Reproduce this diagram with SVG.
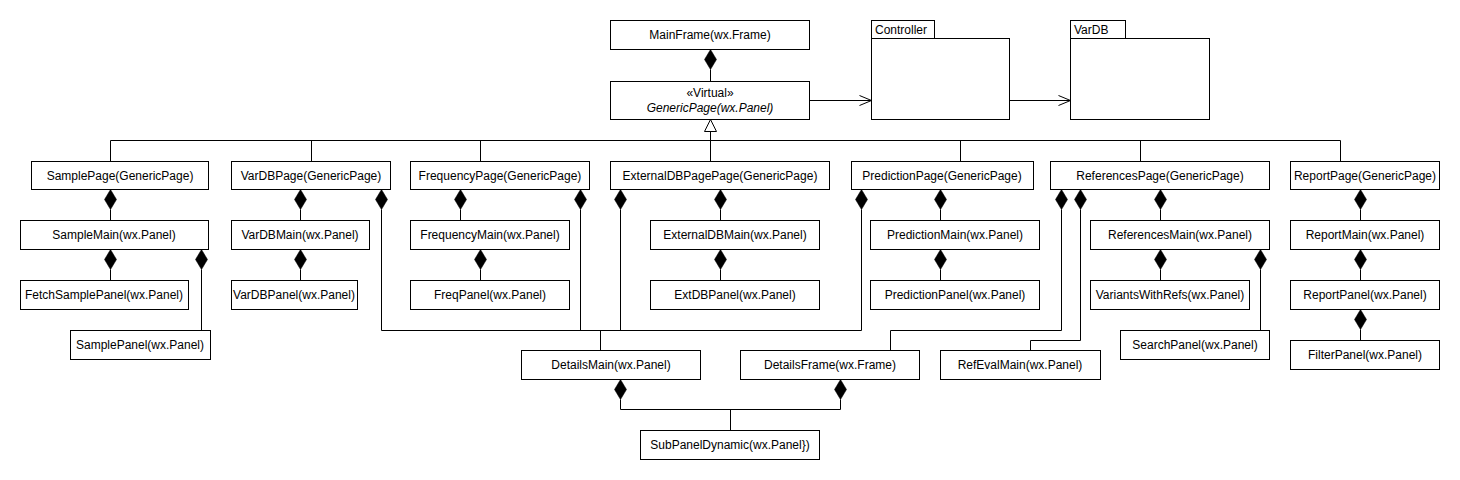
<svg xmlns="http://www.w3.org/2000/svg" xmlns:xlink="http://www.w3.org/1999/xlink" width="1460" height="480" viewBox="0 0 1460 480">
<style>
.box{fill:#fff;stroke:#000;stroke-width:1}
.t{font-family:"Liberation Sans",Arial,sans-serif;font-size:12px;fill:#000;text-anchor:middle}
.tl{font-family:"Liberation Sans",Arial,sans-serif;font-size:12px;fill:#000}
.ln{fill:none;stroke:#000;stroke-width:1}
</style>
<defs>
<path id="dia" d="M0,0 L6,10 L0,20 L-6,10 Z" fill="#000" stroke="#000" stroke-width="0.5"/>
</defs>
<rect width="1460" height="480" fill="#fff"/>

<g id="connectors">
<!-- MainFrame - GenericPage -->
<use xlink:href="#dia" x="710.5" y="49.5"/>
<path class="ln" d="M710.5,69.5 V81.5"/>
<!-- dependency arrows -->
<path class="ln" d="M809.5,100.5 H871.5 M859.5,95.5 L871.5,100.5 L859.5,105.5"/>
<path class="ln" d="M1009.5,100.5 H1070.5 M1058.5,95.5 L1070.5,100.5 L1058.5,105.5"/>
<!-- generalization -->
<path class="ln" d="M710.5,131.5 V161.5 M110.5,161.5 V140.5 H1340.5 V161.5 M311.5,140.5 V161.5 M480.5,140.5 V161.5 M960.5,140.5 V161.5 M1140.5,140.5 V161.5"/>
<path d="M710.5,119.5 L716.5,131.5 L704.5,131.5 Z" fill="#fff" stroke="#000"/>
<!-- Sample -->
<use xlink:href="#dia" x="110.5" y="189.5"/>
<path class="ln" d="M110.5,209.5 V220.5"/>
<use xlink:href="#dia" x="110.5" y="249.5"/>
<path class="ln" d="M110.5,269.5 V280.5"/>
<use xlink:href="#dia" x="201.5" y="249.5"/>
<path class="ln" d="M201.5,269.5 V330.5"/>
<!-- VarDB -->
<use xlink:href="#dia" x="300.5" y="189.5"/>
<path class="ln" d="M300.5,209.5 V220.5"/>
<use xlink:href="#dia" x="300.5" y="249.5"/>
<path class="ln" d="M300.5,269.5 V280.5"/>
<!-- DetailsMain owners -->
<use xlink:href="#dia" x="381.5" y="189.5"/>
<use xlink:href="#dia" x="580.5" y="189.5"/>
<use xlink:href="#dia" x="620.5" y="189.5"/>
<use xlink:href="#dia" x="861.5" y="189.5"/>
<path class="ln" d="M381.5,209.5 V330.5 H861.5 V209.5 M580.5,209.5 V330.5 M620.5,209.5 V330.5 M600.5,330.5 V350.5"/>
<!-- Frequency -->
<use xlink:href="#dia" x="460.5" y="189.5"/>
<path class="ln" d="M460.5,209.5 V220.5"/>
<use xlink:href="#dia" x="480.5" y="249.5"/>
<path class="ln" d="M480.5,269.5 V280.5"/>
<!-- ExternalDB -->
<use xlink:href="#dia" x="720.5" y="189.5"/>
<path class="ln" d="M720.5,209.5 V220.5"/>
<use xlink:href="#dia" x="720.5" y="249.5"/>
<path class="ln" d="M720.5,269.5 V280.5"/>
<!-- Prediction -->
<use xlink:href="#dia" x="940.5" y="189.5"/>
<path class="ln" d="M940.5,209.5 V220.5"/>
<use xlink:href="#dia" x="940.5" y="249.5"/>
<path class="ln" d="M940.5,269.5 V280.5"/>
<!-- References -->
<use xlink:href="#dia" x="1061.5" y="189.5"/>
<path class="ln" d="M1061.5,209.5 V330.5 H890.5 V350.5"/>
<use xlink:href="#dia" x="1080.5" y="189.5"/>
<path class="ln" d="M1080.5,209.5 V340.5 H1030.5 V350.5"/>
<use xlink:href="#dia" x="1160.5" y="189.5"/>
<path class="ln" d="M1160.5,209.5 V220.5"/>
<use xlink:href="#dia" x="1160.5" y="249.5"/>
<path class="ln" d="M1160.5,269.5 V280.5"/>
<use xlink:href="#dia" x="1260.5" y="249.5"/>
<path class="ln" d="M1260.5,269.5 V330.5"/>
<!-- Report -->
<use xlink:href="#dia" x="1360.5" y="189.5"/>
<path class="ln" d="M1360.5,209.5 V220.5"/>
<use xlink:href="#dia" x="1360.5" y="249.5"/>
<path class="ln" d="M1360.5,269.5 V280.5"/>
<use xlink:href="#dia" x="1360.5" y="309.5"/>
<path class="ln" d="M1360.5,329.5 V340.5"/>
<!-- SubPanelDynamic -->
<use xlink:href="#dia" x="620.5" y="379.5"/>
<use xlink:href="#dia" x="840.5" y="379.5"/>
<path class="ln" d="M620.5,399.5 V409.5 H840.5 V399.5 M730.5,409.5 V430.5"/>
</g>

<g id="MainFrame"><rect class="box" x="610.5" y="20.5" width="199" height="29"/><text class="t" x="710" y="39">MainFrame(wx.Frame)</text></g>
<g id="GenericPage"><rect class="box" x="610.5" y="81.5" width="199" height="38"/><text class="t" x="710" y="97">«Virtual»</text><text class="t" x="710" y="112" font-style="italic">GenericPage(wx.Panel)</text></g>
<g id="Controller"><rect class="box" x="871.5" y="20.5" width="63" height="18"/><rect class="box" x="871.5" y="38.5" width="138" height="81"/><text class="tl" x="875" y="34">Controller</text></g>
<g id="VarDB"><rect class="box" x="1070.5" y="20.5" width="55" height="18"/><rect class="box" x="1070.5" y="38.5" width="139" height="81"/><text class="tl" x="1074" y="34">VarDB</text></g>

<g id="SamplePage"><rect class="box" x="31.5" y="161.5" width="177" height="28"/><text class="t" x="120" y="180">SamplePage(GenericPage)</text></g>
<g id="VarDBPage"><rect class="box" x="231.5" y="161.5" width="159" height="28"/><text class="t" x="311" y="180">VarDBPage(GenericPage)</text></g>
<g id="FrequencyPage"><rect class="box" x="410.5" y="161.5" width="179" height="28"/><text class="t" x="500" y="180">FrequencyPage(GenericPage)</text></g>
<g id="ExternalDBPagePage"><rect class="box" x="610.5" y="161.5" width="219" height="28"/><text class="t" x="720" y="180">ExternalDBPagePage(GenericPage)</text></g>
<g id="PredictionPage"><rect class="box" x="851.5" y="161.5" width="182" height="28"/><text class="t" x="942" y="180">PredictionPage(GenericPage)</text></g>
<g id="ReferencesPage"><rect class="box" x="1050.5" y="161.5" width="219" height="28"/><text class="t" x="1160" y="180">ReferencesPage(GenericPage)</text></g>
<g id="ReportPage"><rect class="box" x="1290.5" y="161.5" width="149" height="28"/><text class="t" x="1365" y="180">ReportPage(GenericPage)</text></g>

<g id="SampleMain"><rect class="box" x="20.5" y="220.5" width="188" height="29"/><text class="t" x="114" y="239">SampleMain(wx.Panel)</text></g>
<g id="VarDBMain"><rect class="box" x="231.5" y="220.5" width="138" height="29"/><text class="t" x="300" y="239">VarDBMain(wx.Panel)</text></g>
<g id="FrequencyMain"><rect class="box" x="410.5" y="220.5" width="159" height="29"/><text class="t" x="490" y="239">FrequencyMain(wx.Panel)</text></g>
<g id="ExternalDBMain"><rect class="box" x="650.5" y="220.5" width="169" height="29"/><text class="t" x="735" y="239">ExternalDBMain(wx.Panel)</text></g>
<g id="PredictionMain"><rect class="box" x="870.5" y="220.5" width="169" height="29"/><text class="t" x="955" y="239">PredictionMain(wx.Panel)</text></g>
<g id="ReferencesMain"><rect class="box" x="1090.5" y="220.5" width="179" height="29"/><text class="t" x="1180" y="239">ReferencesMain(wx.Panel)</text></g>
<g id="ReportMain"><rect class="box" x="1290.5" y="220.5" width="149" height="29"/><text class="t" x="1365" y="239">ReportMain(wx.Panel)</text></g>

<g id="FetchSamplePanel"><rect class="box" x="20.5" y="280.5" width="168" height="29"/><text class="t" x="104" y="299">FetchSamplePanel(wx.Panel)</text></g>
<g id="VarDBPanel"><rect class="box" x="231.5" y="280.5" width="126" height="29"/><text class="t" x="294" y="299">VarDBPanel(wx.Panel)</text></g>
<g id="FreqPanel"><rect class="box" x="410.5" y="280.5" width="159" height="29"/><text class="t" x="490" y="299">FreqPanel(wx.Panel)</text></g>
<g id="ExtDBPanel"><rect class="box" x="650.5" y="280.5" width="169" height="29"/><text class="t" x="735" y="299">ExtDBPanel(wx.Panel)</text></g>
<g id="PredictionPanel"><rect class="box" x="870.5" y="280.5" width="169" height="29"/><text class="t" x="955" y="299">PredictionPanel(wx.Panel)</text></g>
<g id="VariantsWithRefs"><rect class="box" x="1090.5" y="280.5" width="159" height="29"/><text class="t" x="1170" y="299">VariantsWithRefs(wx.Panel)</text></g>
<g id="ReportPanel"><rect class="box" x="1290.5" y="280.5" width="149" height="29"/><text class="t" x="1365" y="299">ReportPanel(wx.Panel)</text></g>

<g id="SamplePanel"><rect class="box" x="70.5" y="330.5" width="140" height="29"/><text class="t" x="140" y="349">SamplePanel(wx.Panel)</text></g>
<g id="SearchPanel"><rect class="box" x="1120.5" y="330.5" width="149" height="29"/><text class="t" x="1195" y="349">SearchPanel(wx.Panel)</text></g>
<g id="FilterPanel"><rect class="box" x="1290.5" y="340.5" width="149" height="29"/><text class="t" x="1365" y="359">FilterPanel(wx.Panel)</text></g>
<g id="DetailsMain"><rect class="box" x="521.5" y="350.5" width="179" height="29"/><text class="t" x="611" y="369">DetailsMain(wx.Panel)</text></g>
<g id="DetailsFrame"><rect class="box" x="740.5" y="350.5" width="179" height="29"/><text class="t" x="830" y="369">DetailsFrame(wx.Frame)</text></g>
<g id="RefEvalMain"><rect class="box" x="940.5" y="350.5" width="160" height="29"/><text class="t" x="1020" y="369">RefEvalMain(wx.Panel)</text></g>
<g id="SubPanelDynamic"><rect class="box" x="640.5" y="430.5" width="179" height="29"/><text class="t" x="730" y="449">SubPanelDynamic(wx.Panel})</text></g>
</svg>
